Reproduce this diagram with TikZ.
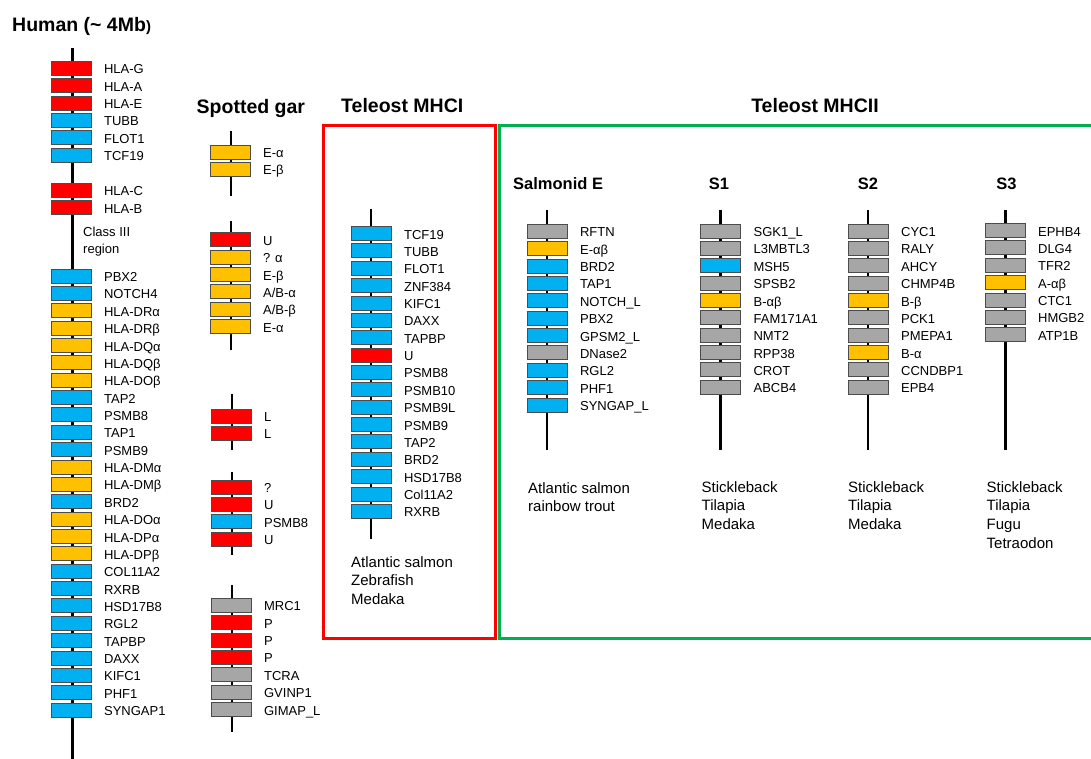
\documentclass[tikz,border=0pt]{standalone}
\usepackage{fontspec}
\setmainfont{Liberation Sans}
\usetikzlibrary{calc}

\definecolor{classI}{HTML}{FF0000}
\definecolor{classII}{HTML}{FFC000}
\definecolor{frame}{HTML}{00B0F0}
\definecolor{other}{HTML}{A6A6A6}
\definecolor{mhcIIgreen}{HTML}{00B050}

\newcommand{\gpitch}{17.36}
% one run of gene boxes below a given top, labels to the right
\newcommand{\genes}[4]{%
  \foreach \c/\g [count=\i] in {#4} {
    \node[gene, fill=\c] (#1\i) at (#2, {#3+7+(\i-1)*\gpitch}) {};
    \node[genelab] (#1\i-lab) at ([xshift=12.5pt, yshift=-5.6pt]#1\i.east) {\g};
  }%
}

\tikzset{
  gene/.style={draw=black!70, line width=0.8pt, minimum width=40pt, minimum height=14pt, inner sep=0pt},
  genelab/.style={anchor=base west, inner sep=0pt, font=\fontsize{13}{15}\selectfont},
  chr/.style={line width=2.4pt},
  bigtitle/.style={inner sep=0pt, font=\bfseries\fontsize{19.5}{22}\selectfont},
  subtitle/.style={inner sep=0pt, anchor=base, font=\bfseries\fontsize{16.5}{19}\selectfont},
  species/.style={anchor=north west, inner sep=0pt, align=left, font=\fontsize{15}{18.7}\selectfont}
}

\begin{document}
\begin{tikzpicture}[x=1pt, y=-1pt]
\useasboundingbox (0,0) rectangle (1091,759);

% Human
\node[bigtitle, anchor=base west] (human) at (12,31.5) {Human (\textasciitilde{} 4Mb{\fontsize{15}{18}\selectfont )}};
\coordinate (hum-top) at (72.5,48);
\coordinate (hum-bot) at (72.5,765);
\draw[chr] (hum-top) -- (hum-bot);
\genes{huma}{71}{61.3}{classI/HLA-G, classI/HLA-A, classI/HLA-E, frame/TUBB, frame/FLOT1, frame/TCF19}
\genes{humb}{71}{183.3}{classI/HLA-C, classI/HLA-B}
\node[species, font=\fontsize{13}{17}\selectfont] (classIII) at (83,226.5) {Class III\\region};
\genes{humc}{71}{269}{frame/PBX2, frame/NOTCH4, classII/HLA-DRα, classII/HLA-DRβ, classII/HLA-DQα,
  classII/HLA-DQβ, classII/HLA-DOβ, frame/TAP2, frame/PSMB8, frame/TAP1, frame/PSMB9, classII/HLA-DMα,
  classII/HLA-DMβ, frame/BRD2, classII/HLA-DOα, classII/HLA-DPα, classII/HLA-DPβ, frame/COL11A2,
  frame/RXRB, frame/HSD17B8, frame/RGL2, frame/TAPBP, frame/DAXX, frame/KIFC1, frame/PHF1, frame/SYNGAP1}

% Spotted gar
\node[bigtitle, anchor=base west] (gar) at (196.5,114) {Spotted gar};
\draw[chr] (231,131) -- (231,196);
\genes{gara}{230}{145}{classII/E-α, classII/E-β}
\draw[chr] (231,221) -- (231,350);
\genes{garb}{230}{232.7}{classI/U, classII/? α, classII/E-β, classII/{A/B-α}, classII/{A/B-β}, classII/E-α}
\draw[chr] (232,394) -- (232,450);
\genes{garc}{231}{409}{classI/L, classI/L}
\draw[chr] (232,472) -- (232,555);
\genes{gard}{231}{480}{classI/?, classI/U, frame/PSMB8, classI/U}
\draw[chr] (232,585) -- (232,732);
\genes{gare}{231}{598.3}{other/MRC1, classI/P, classI/P, classI/P, other/TCRA, other/GVINP1, other/GIMAP\_L}

% Teleost MHCI
\node[bigtitle, anchor=base west] (mhci) at (341,113) {Teleost MHCI};
\draw[classI, line width=3pt] (323,126) rectangle (495,638);
\draw[chr] (371,209) -- (371,539);
\genes{tel}{371}{226.5}{frame/TCF19, frame/TUBB, frame/FLOT1, frame/ZNF384, frame/KIFC1, frame/DAXX,
  frame/TAPBP, classI/U, frame/PSMB8, frame/PSMB10, frame/PSMB9L, frame/PSMB9, frame/TAP2, frame/BRD2,
  frame/HSD17B8, frame/Col11A2, frame/RXRB}
\node[species] (telsp) at (351,556) {Atlantic salmon\\Zebrafish\\Medaka};

% Teleost MHCII
\node[bigtitle, anchor=base] (mhcii) at (815,113) {Teleost MHCII};
\draw[mhcIIgreen, line width=3pt] (1096,126) -- (499,126) -- (499,638) -- (1096,638);

% Salmonid E
\node[subtitle, anchor=base west] (salt) at (513,190) {Salmonid E};
\draw[chr] (547,210) -- (547,450);
\genes{sal}{547}{224.3}{other/RFTN, classII/E-αβ, frame/BRD2, frame/TAP1, frame/NOTCH\_L, frame/PBX2,
  frame/GPSM2\_L, other/DNase2, frame/RGL2, frame/PHF1, frame/SYNGAP\_L}
\node[species] (salsp) at (528,482) {Atlantic salmon\\rainbow trout};

% S1
\node[subtitle] (sat) at (719,190) {S1};
\draw[chr] (720.5,210) -- (720.5,450);
\genes{sa}{720.5}{224}{other/SGK1\_L, other/L3MBTL3, frame/MSH5, other/SPSB2, classII/B-αβ, other/FAM171A1,
  other/NMT2, other/RPP38, other/CROT, other/ABCB4}
\node[species] (sasp) at (701.5,481) {Stickleback\\Tilapia\\Medaka};

% S2
\node[subtitle] (sbt) at (868,190) {S2};
\draw[chr] (868,210) -- (868,450);
\genes{sb}{868}{224}{other/CYC1, other/RALY, other/AHCY, other/CHMP4B, classII/B-β, other/PCK1,
  other/PMEPA1, classII/B-α, other/CCNDBP1, other/EPB4}
\node[species] (sbsp) at (848,481) {Stickleback\\Tilapia\\Medaka};

% S3
\node[subtitle] (sct) at (1006.5,190) {S3};
\draw[chr] (1005.5,210) -- (1005.5,450);
\genes{sc}{1005}{223.5}{other/EPHB4, other/DLG4, other/TFR2, classII/A-αβ, other/CTC1, other/HMGB2, other/ATP1B}
\node[species] (scsp) at (986.5,481) {Stickleback\\Tilapia\\Fugu\\Tetraodon};
\end{tikzpicture}
\end{document}
